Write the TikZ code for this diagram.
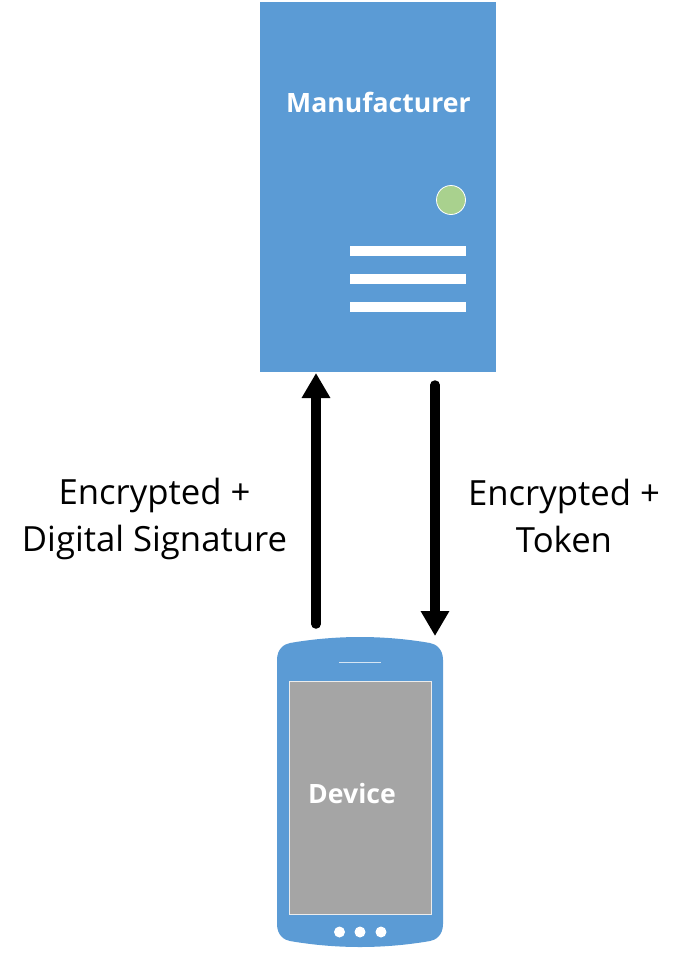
\documentclass[tikz,border=0pt]{standalone}
\usepackage{fontspec}
\setmainfont{Open Sans}
\usetikzlibrary{arrows.meta}
\definecolor{bluefill}{HTML}{5B9BD5}
\definecolor{greenled}{HTML}{A9D18E}
\definecolor{screengray}{HTML}{A5A5A5}
\tikzset{
  x=1pt,y=-1pt,
  panel/.style={fill=bluefill,draw=none},
  slot/.style={fill=white,draw=none},
  flow/.style={line width=9.5pt,line cap=round,-{Triangle[length=25pt,width=27pt]}},
  lbl/.style={font=\fontsize{34.7pt}{47pt}\selectfont,align=center,text=black,inner sep=0pt},
  ttl/.style={font=\fontsize{26.6pt}{30pt}\selectfont\bfseries,text=white,inner sep=0pt}
}
\begin{document}
\begin{tikzpicture}
\useasboundingbox (0,0) rectangle (691,956);
% server
\node[panel,minimum width=236pt,minimum height=370pt,inner sep=0pt,anchor=north west] (server) at (260,2) {};
\node[ttl] (mname) at (378.5,102.5) {Manufacturer};
\node[circle,fill=greenled,draw=white,line width=0.8pt,minimum size=29pt,inner sep=0pt] (led) at (451,200) {};
\node[slot,minimum width=116pt,minimum height=10pt,inner sep=0pt] (bar1) at (408,251) {};
\node[slot,minimum width=116pt,minimum height=10pt,inner sep=0pt] (bar2) at (408,279) {};
\node[slot,minimum width=116pt,minimum height=10pt,inner sep=0pt] (bar3) at (408,307) {};
% phone
\fill[panel] (277,660)
  .. controls (277,649) and (284,644) .. (290,643)
  .. controls (313,639) and (337,637) .. (360,637)
  .. controls (383,637) and (407,639) .. (430,643)
  .. controls (436,644) and (443,649) .. (443,660)
  -- (443,924)
  .. controls (443,935) and (436,940) .. (430,941)
  .. controls (407,945) and (383,947) .. (360,947)
  .. controls (337,947) and (313,945) .. (290,941)
  .. controls (284,940) and (277,935) .. (277,924)
  -- cycle;
\node[fill=screengray,draw=white!85!gray,line width=0.9pt,minimum width=142pt,minimum height=233pt,inner sep=0pt,anchor=north west] (screen) at (289,681) {};
\node[ttl] (dname) at (352,794) {Device};
\node[slot,opacity=0.75,minimum width=42pt,minimum height=1pt,inner sep=0pt] (speaker) at (360,662) {};
\node[circle,slot,minimum size=11pt,inner sep=0pt] (d1) at (339.5,932) {};
\node[circle,slot,minimum size=11pt,inner sep=0pt] (d2) at (360,932) {};
\node[circle,slot,minimum size=11pt,inner sep=0pt] (d3) at (381,932) {};
% connectors
\coordinate (upstart) at (316,624);
\coordinate (upend) at (316,373);
\coordinate (downstart) at (435,385);
\coordinate (downend) at (435,636);
\draw[flow] (upstart) -- (upend);
\draw[flow] (downstart) -- (downend);
% labels
\node[lbl] (left) at (154.5,519) {Encrypted +\\Digital Signature};
\node[lbl] (right) at (564,516) {Encrypted +\\Token};
\end{tikzpicture}
\end{document}
